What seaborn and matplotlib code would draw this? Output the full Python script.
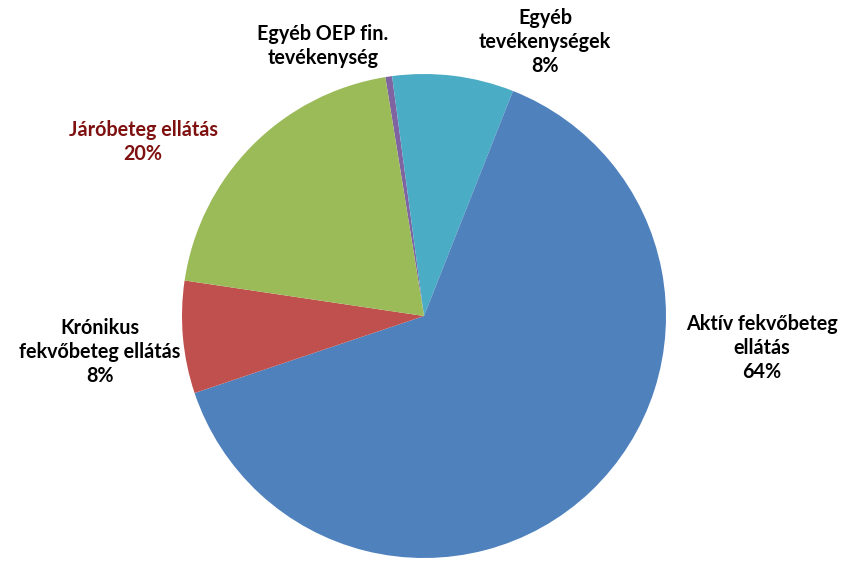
import matplotlib
matplotlib.use("Agg")
import matplotlib.pyplot as plt
import seaborn as sns

categories = ["Egyéb OEP fin.\ntevékenység", "Egyéb\ntevékenységek", "Aktív fekvőbeteg\nellátás",
              "Krónikus\nfekvőbeteg ellátás", "Járóbeteg ellátás"]
values = [0.45, 8.1, 63.85, 7.5, 20.1]
pct_labels = ["", "8%", "64%", "8%", "20%"]
colors = ["#8064A2", "#4BACC6", "#4F81BD", "#C0504D", "#9BBB59"]
label_colors = ["black", "black", "black", "black", "#7F1010"]
# label centers in pie-radius units
label_pos = [(-0.417, 1.116), (0.500, 1.132), (1.397, -0.132), (-1.339, -0.149), (-1.161, 0.719)]

sns.set_theme(style="white")
plt.rcParams['font.family'] = ['Lato', 'DejaVu Sans']

fig = plt.figure(figsize=(8.65, 5.64), dpi=100)
ax = fig.add_axes([0, 0, 1, 1])
ax.pie(values, colors=colors, startangle=99.2, counterclock=False,
       radius=1.0, wedgeprops=dict(linewidth=0))
ax.set_xlim(-424 / 242, (865 - 424) / 242)
ax.set_ylim(-(564 - 316) / 242, 316 / 242)
ax.set_aspect('equal')
ax.axis('off')

for cat, pct, (x, y), c in zip(categories, pct_labels, label_pos, label_colors):
    txt = cat + ("\n" + pct if pct else "")
    ax.text(x, y, txt, ha='center', va='center', fontsize=14.2, fontweight='bold',
            color=c, linespacing=1.25)

fig.savefig("out.png", dpi=100)
